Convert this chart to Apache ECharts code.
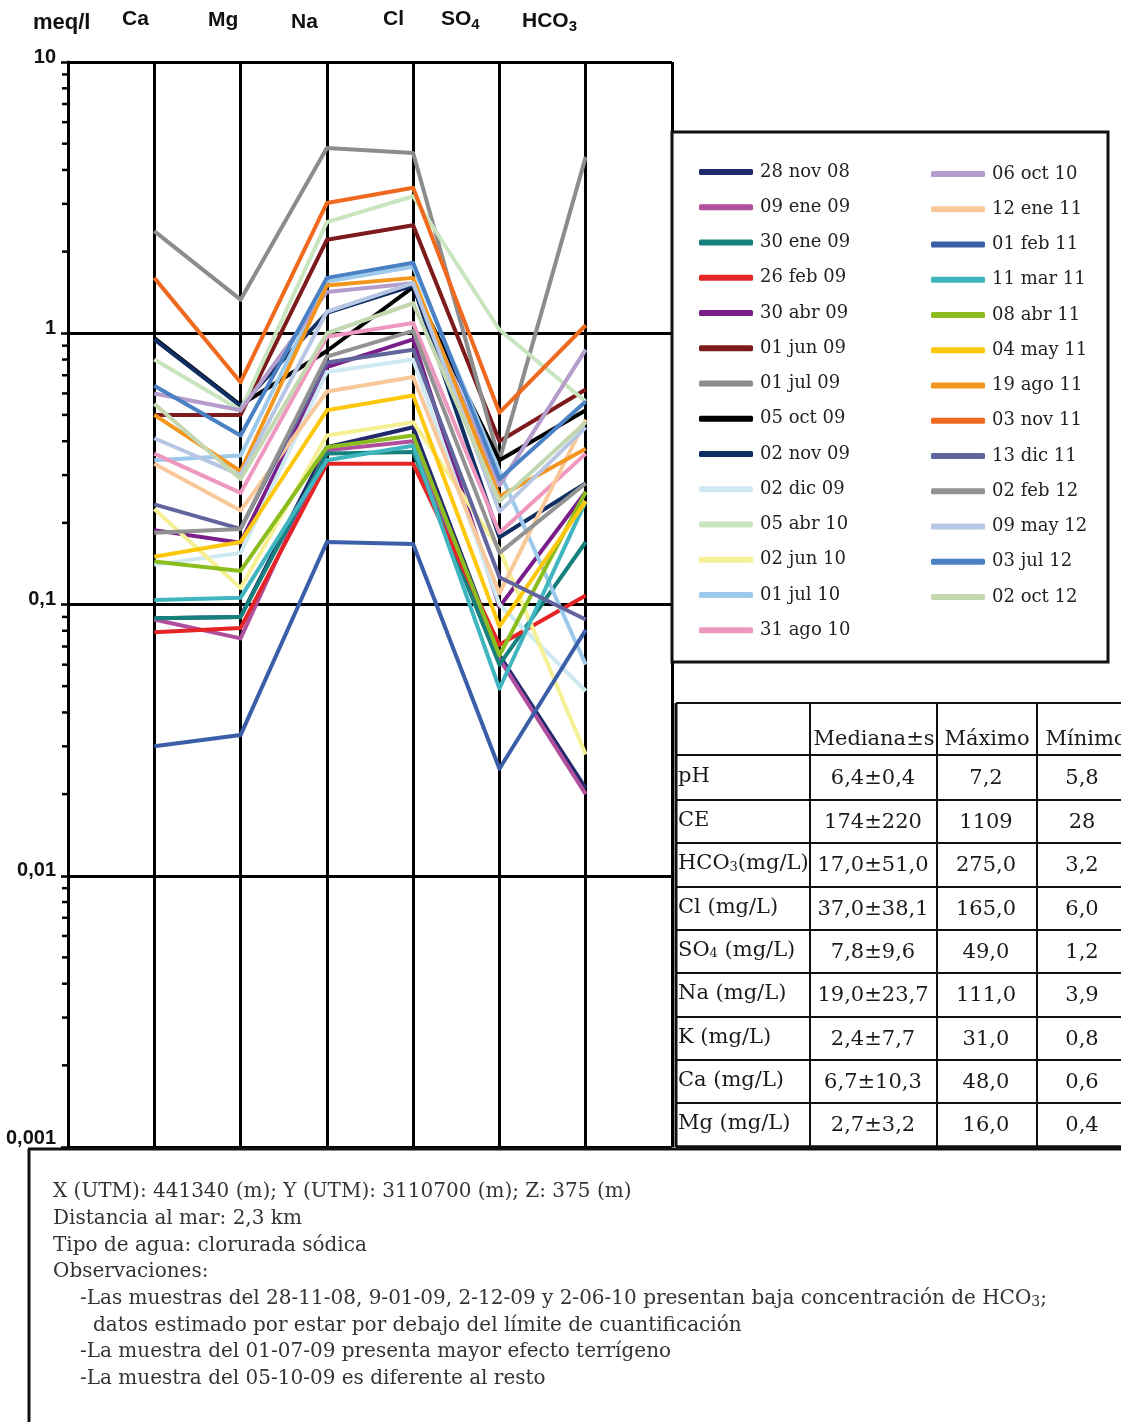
<!DOCTYPE html>
<html>
<head>
<meta charset="utf-8">
<script src="https://cdn.jsdelivr.net/npm/echarts@6/dist/echarts.min.js"></script>
<style>
html,body{margin:0;padding:0;background:#fff}
#chart{width:1121px;height:1422px}
</style>
</head>
<body>
<div id="chart"></div>
<script>
// Ion order along the horizontal axis (positions 1..6)
const ions = ['Ca', 'Mg', 'Na', 'Cl', 'SO4', 'HCO3'];

// Log axis ticks and their printed labels
const yTickValues = [0.001, 0.01, 0.1, 1, 10];
const yTickLabels = ['0,001', '0,01', '0,1', '1', '10'];

// Sampling dates
const sampleNames = [
  '28 nov 08', '09 ene 09', '30 ene 09', '26 feb 09', '30 abr 09', '01 jun 09', '01 jul 09',
  '05 oct 09', '02 nov 09', '02 dic 09', '05 abr 10', '02 jun 10', '01 jul 10', '31 ago 10',
  '06 oct 10', '12 ene 11', '01 feb 11', '11 mar 11', '08 abr 11', '04 may 11', '19 ago 11',
  '03 nov 11', '13 dic 11', '02 feb 12', '09 may 12', '03 jul 12', '02 oct 12'
];
const sampleColors = [
  '#222a6b', '#b14f9f', '#16807c', '#e52426', '#7a1e8a', '#7d1a1c', '#8c8c8c',
  '#000000', '#0f2f63', '#cfe9f3', '#c9e5bf', '#f5f094', '#9dcaea', '#ee98c0',
  '#b49dcc', '#f9c89a', '#3b5ea9', '#3fb6bf', '#8bbd1e', '#fdc80c', '#f2961e',
  '#ef6a1f', '#62649e', '#929292', '#b7c6e3', '#4a80c4', '#c3d8b1'
];

// Concentrations in meq/l, one value per sample (same order as sampleNames)
const ca   = [0.089, 0.088, 0.089, 0.079, 0.188, 0.50, 2.38, 0.96, 0.95, 0.14, 0.80, 0.225, 0.34, 0.36,
              0.60, 0.33, 0.030, 0.104, 0.144, 0.150, 0.50, 1.60, 0.234, 0.184, 0.41, 0.64, 0.55];
const mg   = [0.090, 0.075, 0.090, 0.082, 0.169, 0.50, 1.33, 0.544, 0.54, 0.155, 0.52, 0.115, 0.354, 0.258,
              0.52, 0.222, 0.033, 0.106, 0.133, 0.17, 0.31, 0.66, 0.19, 0.19, 0.30, 0.42, 0.29];
const na   = [0.38, 0.37, 0.36, 0.33, 0.75, 2.21, 4.82, 0.86, 1.19, 0.72, 2.57, 0.42, 1.55, 0.97,
              1.42, 0.61, 0.17, 0.34, 0.38, 0.52, 1.50, 3.02, 0.78, 0.82, 1.20, 1.60, 1.00];
const cl   = [0.45, 0.40, 0.365, 0.33, 0.95, 2.50, 4.62, 1.48, 1.50, 0.80, 3.20, 0.47, 1.76, 1.09,
              1.53, 0.69, 0.167, 0.385, 0.42, 0.59, 1.60, 3.44, 0.87, 1.02, 1.53, 1.82, 1.29];
const so4  = [0.065, 0.063, 0.060, 0.071, 0.098, 0.40, 0.34, 0.34, 0.177, 0.10, 1.03, 0.16, 0.31, 0.184,
              0.275, 0.11, 0.0248, 0.049, 0.065, 0.083, 0.25, 0.51, 0.126, 0.155, 0.22, 0.29, 0.24];
const hco3 = [0.021, 0.020, 0.17, 0.108, 0.26, 0.62, 4.47, 0.52, 0.28, 0.048, 0.56, 0.028, 0.06, 0.36,
              0.87, 0.48, 0.0805, 0.24, 0.26, 0.24, 0.375, 1.07, 0.088, 0.28, 0.45, 0.56, 0.47];

// Summary statistics table
const tableHeader = ['', 'Mediana±s', 'Máximo', 'Mínimo'];
const tableRowLabels = ['pH', 'CE', 'HCO{s|3}(mg/L)', 'Cl (mg/L)', 'SO{s|4} (mg/L)', 'Na (mg/L)', 'K (mg/L)', 'Ca (mg/L)', 'Mg (mg/L)'];
const tableMedian = ['6,4±0,4', '174±220', '17,0±51,0', '37,0±38,1', '7,8±9,6', '19,0±23,7', '2,4±7,7', '6,7±10,3', '2,7±3,2'];
const tableMax = ['7,2', '1109', '275,0', '165,0', '49,0', '111,0', '31,0', '48,0', '16,0'];
const tableMin = ['5,8', '28', '3,2', '6,0', '1,2', '3,9', '0,8', '0,6', '0,4'];

// Site notes (text, indent level)
const notes = [
  'X (UTM): 441340 (m); Y (UTM): 3110700 (m); Z: 375 (m)',
  'Distancia al mar: 2,3 km',
  'Tipo de agua: clorurada sódica',
  'Observaciones:',
  '-Las muestras del 28-11-08, 9-01-09, 2-12-09 y 2-06-10 presentan baja concentración de HCO{s|3};',
  'datos estimado por estar por debajo del límite de cuantificación',
  '-La muestra del 01-07-09 presenta mayor efecto terrígeno',
  '-La muestra del 05-10-09 es diferente al resto'
];
const noteIndent = [0, 0, 0, 0, 1, 2, 1, 1];

const ionColumns = [ca, mg, na, cl, so4, hco3];

const chart = echarts.init(document.getElementById('chart'), null, { renderer: 'canvas' });

const lineSeries = sampleNames.map((name, i) => ({
  name: name,
  type: 'line',
  data: ionColumns.map((col, j) => [j + 1, col[i]]),
  symbol: 'none',
  lineStyle: { width: 4, color: sampleColors[i], join: 'round' },
  itemStyle: { color: sampleColors[i] },
  silent: true,
  z: 3
}));

// Minor log ticks (2..9 of each decade) drawn on the outer side of the y axis
const minorTicks = [];
for (let e = -3; e < 1; e++) {
  for (let m = 2; m <= 9; m++) minorTicks.push([0, m * Math.pow(10, e)]);
}
const minorTickSeries = {
  type: 'custom',
  data: minorTicks,
  silent: true,
  clip: false,
  z: 5,
  renderItem: function (params, api) {
    const p = api.coord([0, api.value(1)]);
    return {
      type: 'line',
      shape: { x1: p[0] - 6, y1: p[1], x2: p[0], y2: p[1] },
      style: { stroke: '#000', lineWidth: 2.5 }
    };
  }
};

const serifFont = 'DejaVu Serif';
const sansBold = { fontFamily: 'Liberation Sans', fontWeight: 'bold', fontSize: 21, fill: '#111' };

const graphics = [];

// Ion headings above the diagram
const headerItems = [
  { text: 'meq/l', x: 33, y: 24, size: 22 },
  { text: 'Ca', x: 122, y: 21, size: 21 },
  { text: 'Mg', x: 208, y: 22, size: 21 },
  { text: 'Na', x: 291, y: 24, size: 21 },
  { text: 'Cl', x: 383, y: 21, size: 21 },
  { text: 'SO{s|4}', x: 441, y: 21, size: 21 },
  { text: 'HCO{s|3}', x: 522, y: 23, size: 21 }
];
headerItems.forEach(h => {
  graphics.push({
    type: 'text', left: h.x, top: h.y - 12, z: 10,
    style: Object.assign({}, sansBold, {
      text: h.text, fontSize: h.size,
      rich: { s: { fontFamily: 'Liberation Sans', fontWeight: 'bold', fontSize: 15, padding: [10, 0, 0, 0], fill: '#111' } }
    })
  });
});

// Legend frame
graphics.push({
  type: 'rect', z: 1,
  shape: { x: 672, y: 132, width: 436, height: 530 },
  style: { fill: '#fff', stroke: '#111', lineWidth: 3 }
});

// Statistics table
const colX = [676, 810, 937, 1037, 1135];
const rowY = [703, 755, 800, 843, 887, 930, 973, 1017, 1060, 1103, 1147];
rowY.forEach((y, k) => {
  graphics.push({
    type: 'line', z: 6,
    shape: { x1: colX[0], y1: y, x2: 1121, y2: y },
    style: { stroke: '#111', lineWidth: (k === rowY.length - 1) ? 3.5 : 2 }
  });
});
colX.slice(0, 4).forEach((x, k) => {
  graphics.push({
    type: 'line', z: 6,
    shape: { x1: x, y1: rowY[0], x2: x, y2: rowY[rowY.length - 1] },
    style: { stroke: '#111', lineWidth: k === 0 ? 3 : 2 }
  });
});
const cellFont = { fontFamily: serifFont, fontSize: 21, fill: '#1a1a1a' };
const subRich = { s: { fontFamily: serifFont, fontSize: 13, padding: [7, 0, 0, 0], fill: '#1a1a1a' } };
const headerCenters = [0, 874, 987, 1086];
tableHeader.forEach((t, c) => {
  if (!t) return;
  graphics.push({
    type: 'text', z: 7,
    x: headerCenters[c], y: 740,
    style: Object.assign({}, cellFont, { text: t, textAlign: 'center', textVerticalAlign: 'middle' })
  });
});
const valueCenters = [873, 986, 1082];
tableRowLabels.forEach((label, r) => {
  const cy = (rowY[r + 1] + rowY[r + 2]) / 2;
  graphics.push({
    type: 'text', z: 7, x: 678, y: cy - 1,
    style: Object.assign({}, cellFont, { text: label, textAlign: 'left', textVerticalAlign: 'middle', rich: subRich })
  });
  [tableMedian[r], tableMax[r], tableMin[r]].forEach((v, c) => {
    graphics.push({
      type: 'text', z: 7,
      x: valueCenters[c], y: cy + 1,
      style: Object.assign({}, cellFont, { text: v, textAlign: 'center', textVerticalAlign: 'middle' })
    });
  });
});

// Notes box
graphics.push({
  type: 'line', z: 6,
  shape: { x1: 28, y1: 1149, x2: 1121, y2: 1149 },
  style: { stroke: '#111', lineWidth: 3 }
});
graphics.push({
  type: 'line', z: 6,
  shape: { x1: 29, y1: 1149, x2: 29, y2: 1422 },
  style: { stroke: '#111', lineWidth: 3 }
});
const indentX = [53, 80, 93];
notes.forEach((line, k) => {
  graphics.push({
    type: 'text', z: 7, x: indentX[noteIndent[k]], y: 1192 + k * 26.7,
    style: {
      text: line, fontFamily: serifFont, fontSize: 20, fill: '#333',
      textVerticalAlign: 'middle',
      rich: { s: { fontFamily: serifFont, fontSize: 14, padding: [8, 0, 0, 0], fill: '#333' } }
    }
  });
});

const legendCommon = {
  orient: 'vertical',
  icon: 'roundRect',
  itemWidth: 54,
  itemHeight: 6,
  itemGap: 15.25,
  selectedMode: false,
  textStyle: { fontFamily: serifFont, fontSize: 18, color: '#222', lineHeight: 20, padding: [0, 0, 0, 2] },
  z: 4
};

const option = {
  backgroundColor: '#fff',
  animation: false,
  grid: { left: 68, top: 62, width: 604, height: 1085, containLabel: false },
  legend: [
    Object.assign({}, legendCommon, { left: 694, top: 157, data: sampleNames.slice(0, 14) }),
    Object.assign({}, legendCommon, { left: 926, top: 159, data: sampleNames.slice(14) })
  ],
  xAxis: {
    type: 'value', min: 0, max: 7, interval: 1,
    axisLine: { show: false }, axisTick: { show: false }, axisLabel: { show: false },
    splitLine: { show: true, lineStyle: { color: '#000', width: 3 } }
  },
  yAxis: {
    type: 'log', logBase: 10, min: 0.001, max: 10,
    axisLine: { show: true, lineStyle: { color: '#000', width: 3 } },
    axisTick: { show: true, length: 7, lineStyle: { color: '#000', width: 2.5 } },
    splitLine: { show: true, lineStyle: { color: '#000', width: 3 } },
    axisLabel: {
      show: true, margin: 12, fontFamily: 'Liberation Sans', fontWeight: 'bold', fontSize: 20, color: '#111',
      verticalAlign: 'middle', padding: [0, 0, 10, 0],
      rich: {
        low: { fontFamily: 'Liberation Sans', fontWeight: 'bold', fontSize: 20, color: '#111', padding: [0, 0, 8, 0] }
      },
      formatter: function (v) {
        const k = yTickValues.findIndex(t => Math.abs(Math.log10(t) - Math.log10(v)) < 1e-6);
        if (k < 0) return '';
        return k === 0 ? '{low|' + yTickLabels[k] + '}' : yTickLabels[k];
      }
    }
  },
  graphic: { elements: graphics },
  series: lineSeries.concat([minorTickSeries])
};

chart.setOption(option);
</script>
</body>
</html>
